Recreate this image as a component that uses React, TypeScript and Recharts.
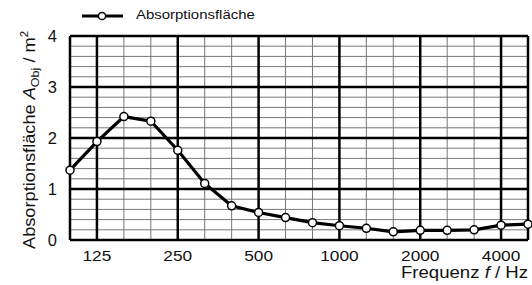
import React from "react";
import { LineChart, Line, XAxis, YAxis, ReferenceLine, Label } from "recharts";

const freqs = ["100","125","160","200","250","315","400","500","630","800","1000","1250","1600","2000","2500","3150","4000","5000"];
const absorption = [1.37,1.93,2.42,2.33,1.76,1.11,0.67,0.54,0.44,0.34,0.28,0.23,0.16,0.19,0.19,0.2,0.29,0.31];
const octaveTicks = ["125","250","500","1000","2000","4000"];
const yTicks = [0,1,2,3,4];
const yMinor = [0.2,0.4,0.6,0.8,1.2,1.4,1.6,1.8,2.2,2.4,2.6,2.8,3.2,3.4,3.6,3.8];

const data = freqs.map((f, i) => ({ i, f, v: absorption[i] }));
const xTickIdx = octaveTicks.map((t) => freqs.indexOf(t));

const FONT = "Liberation Sans, Arial, sans-serif";

const XTick = (p: any) => {
  const label = freqs[p.payload.value];
  return (
    <text x={p.x} y={p.y + 13} textAnchor="middle" fontFamily={FONT} fontSize={15.5} fill="#111"
      textLength={label.length * 9.6} lengthAdjust="spacingAndGlyphs">{label}</text>
  );
};
const YTick = (p: any) => (
  <text x={p.x - 5} y={p.y + 6} textAnchor="end" fontFamily={FONT} fontSize={16.5} fill="#111">{p.payload.value}</text>
);

const YLab = (p: any) => {
  const vb = p.viewBox;
  const cy = vb.y + vb.height / 2 + 2;
  const cx = 35;
  return (
    <text transform={`translate(${cx},${cy}) rotate(-90)`} textAnchor="middle" fontFamily={FONT} fontSize={16} fill="#111"
      textLength={218} lengthAdjust="spacingAndGlyphs">
      <tspan>Absorptionsfläche </tspan>
      <tspan fontStyle="italic">A</tspan>
      <tspan fontSize={11} dy={4}>Obj</tspan>
      <tspan dy={-4}> / m</tspan>
      <tspan fontSize={10} dy={-7}>2</tspan>
    </text>
  );
};

const XLab = (p: any) => {
  const vb = p.viewBox;
  return (
    <text x={vb.x + vb.width} y={vb.y + 38} textAnchor="end" fontFamily={FONT} fontSize={16} fill="#111"
      textLength={127} lengthAdjust="spacingAndGlyphs">
      Frequenz <tspan fontStyle="italic">f</tspan> / Hz
    </text>
  );
};

export default function App() {
  return (
    <div style={{ position: "absolute", left: 0, top: 0, width: 532, height: 285, background: "#fff" }}>
      <svg width={160} height={30} style={{ position: "absolute", left: 0, top: 0 }}>
        <line x1={82} y1={16} x2={123} y2={16} stroke="#000" strokeWidth={3} />
        <circle cx={102} cy={16} r={3.6} fill="#fff" stroke="#000" strokeWidth={1.5} />
      </svg>
      <div style={{ position: "absolute", left: 136, top: 7, fontFamily: FONT, fontSize: 13, color: "#111", transform: "scaleX(1.15)", transformOrigin: "left center", whiteSpace: "nowrap" }}>
        Absorptionsfläche
      </div>
      <LineChart width={532} height={285} data={data} margin={{ top: 36, right: 4, left: 0, bottom: 0 }}>
        <XAxis dataKey="i" type="number" domain={[0, freqs.length - 1]} ticks={xTickIdx} tick={<XTick />} tickLine={false} axisLine={false} height={45} interval={0}>
          <Label content={<XLab />} />
        </XAxis>
        <YAxis type="number" domain={[0, 4]} ticks={yTicks} tick={<YTick />} tickLine={false} axisLine={false} width={70}>
          <Label content={<YLab />} />
        </YAxis>
        {yMinor.map((y) => (
          <ReferenceLine key={"h" + y} y={y} stroke="#777" strokeWidth={1} />
        ))}
        {freqs.map((f, i) =>
          octaveTicks.includes(f) || i === 0 || i === freqs.length - 1 ? null : (
            <ReferenceLine key={"v" + i} x={i} stroke="#777" strokeWidth={1} />
          )
        )}
        {yTicks.map((y) => (
          <ReferenceLine key={"H" + y} y={y} stroke="#000" strokeWidth={2.5} />
        ))}
        {freqs.map((f, i) =>
          octaveTicks.includes(f) || i === 0 || i === freqs.length - 1 ? (
            <ReferenceLine key={"V" + i} x={i} stroke="#000" strokeWidth={2.5} />
          ) : null
        )}
        <Line dataKey="v" stroke="#000" strokeWidth={3.2} isAnimationActive={false}
          dot={{ r: 4, fill: "#fff", stroke: "#000", strokeWidth: 1.5 }} />
      </LineChart>
    </div>
  );
}
